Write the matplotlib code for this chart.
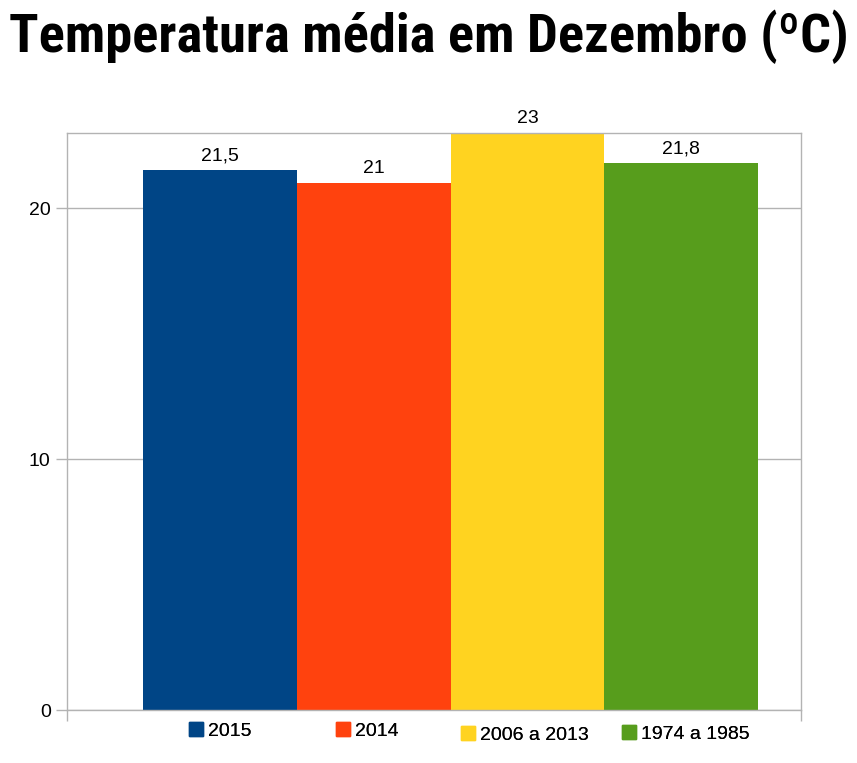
import matplotlib
matplotlib.use("Agg")
import matplotlib.pyplot as plt
from matplotlib import font_manager
from matplotlib.patches import Patch

# Data
series = ["2015", "2014", "2006 a 2013", "1974 a 1985"]
values = [21.5, 21.0, 23.0, 21.8]
colors = ["#004586", "#ff420e", "#ffd320", "#579d1c"]
yticks = [0, 10, 20]
title = "Temperatura média em Dezembro (ºC)"

plt.rcParams["font.family"] = ["Liberation Sans", "DejaVu Sans"]

# narrowest bold font we can find for the title
installed = {f.name for f in font_manager.fontManager.ttflist}
title_font = "Roboto"
for name in ["Liberation Sans Narrow", "Roboto Condensed", "Open Sans Condensed",
             "Noto Sans Condensed", "Roboto"]:
    if name in installed:
        title_font = name
        break

fig = plt.figure(figsize=(8.57, 7.63), dpi=100)
ax = fig.add_axes([0.0778, 0.0691, 0.8568, 0.757])

x = list(range(len(values)))
bars = ax.bar(x, values, width=1.0, color=colors)

# labels with comma decimal
labels = [f"{v:g}".replace(".", ",") for v in values]
ax.bar_label(bars, labels=labels, padding=4, fontsize=14)

ax.set_xlim(-1.0, 3.78)
ax.set_ylim(0, 23)
ax.set_yticks(yticks)
ax.set_yticklabels([str(t) for t in yticks], fontsize=14)
ax.set_xticks([-1.0, 3.78])
ax.set_xticklabels(["", ""])
ax.tick_params(axis="both", color="#b3b3b3", length=8, width=1)
ax.yaxis.grid(True, color="#b3b3b3", linewidth=1)
ax.set_axisbelow(True)
for s in ax.spines.values():
    s.set_color("#b3b3b3")
    s.set_linewidth(1)

# title, sized to span the same width as the original
t = fig.text(0.5, 1 - 52 / 763, title, ha="center", va="baseline",
             fontsize=40, fontweight="heavy", family=[title_font, "DejaVu Sans"])
r = fig.canvas.get_renderer()
w = t.get_window_extent(r).width
t.set_fontsize(40 * 838 / w)

# legend entries, placed like the original
leg_x = [189, 336, 461, 622]
leg_y = [731, 731, 735, 734]
for name, c, lx, ly in zip(series, colors, leg_x, leg_y):
    lg = fig.legend(handles=[Patch(facecolor=c, edgecolor=c)], labels=[name],
                    loc="center left", bbox_to_anchor=(lx / 857, 1 - ly / 763),
                    frameon=False, fontsize=14, handlelength=0.7,
                    handleheight=0.7, handletextpad=0.3, borderpad=0,
                    borderaxespad=0)
    fig.add_artist(lg)

fig.savefig("out.png", dpi=100)
